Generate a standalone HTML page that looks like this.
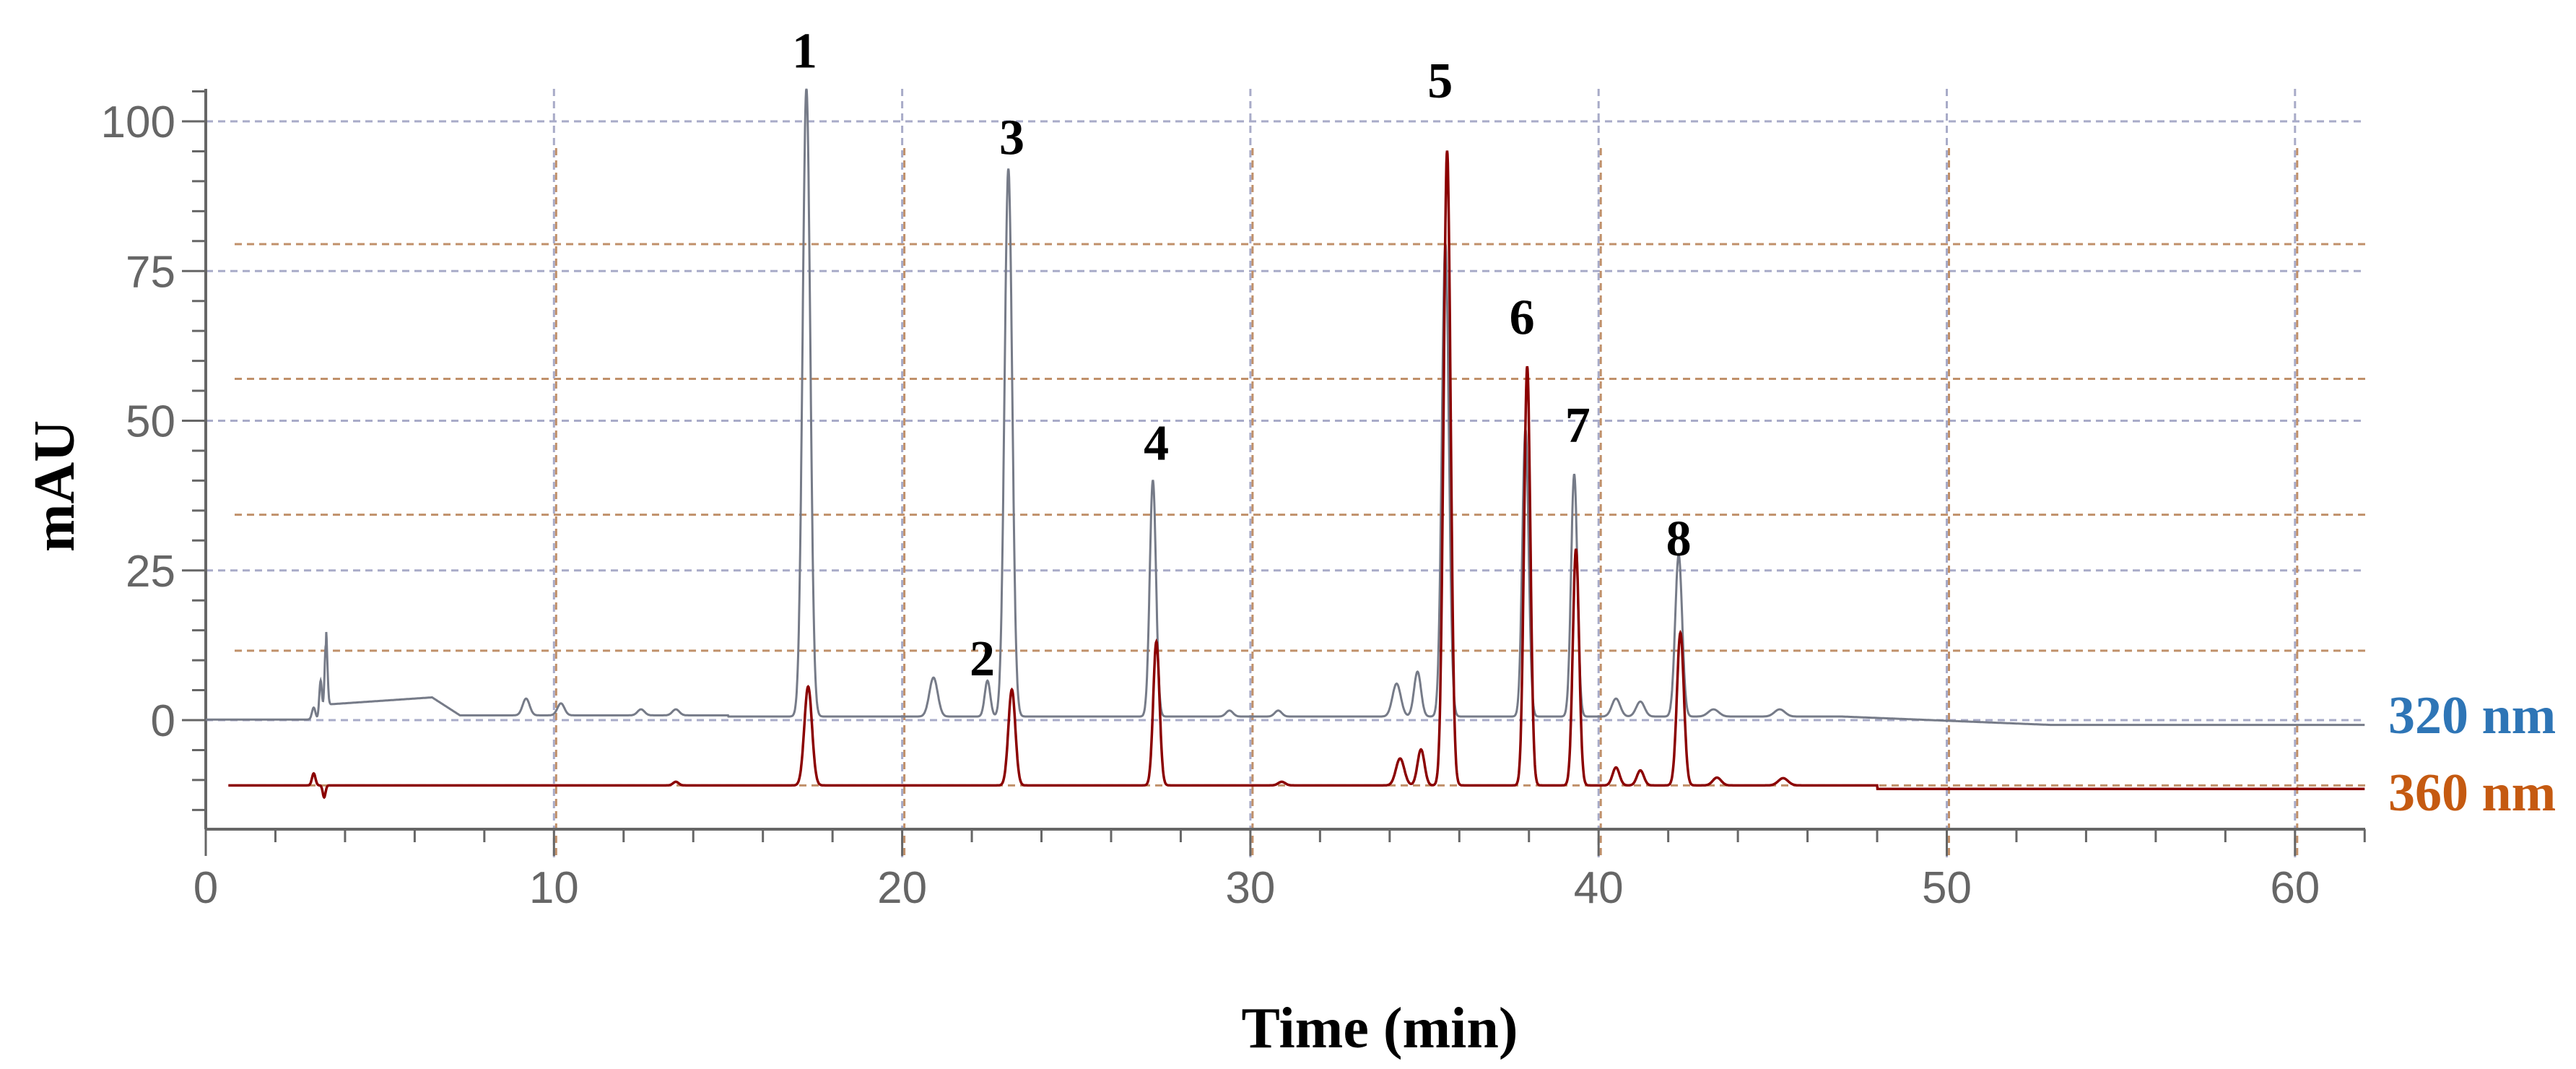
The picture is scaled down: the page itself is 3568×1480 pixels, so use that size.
<!DOCTYPE html>
<html><head><meta charset="utf-8"><style>
html,body{margin:0;padding:0;background:#fff;}
svg{display:block;}
</style></head><body>
<svg id="chart" width="3568" height="1480" viewBox="0 0 3568 1480" xmlns="http://www.w3.org/2000/svg">
<g id="grid"></g>
<g id="axes"></g>
<g id="series"></g>
<g id="labels"></g>
<text x="0" y="0" transform="translate(102,673) rotate(-90)" text-anchor="middle" font-family="Liberation Serif, serif" font-weight="bold" font-size="80" fill="#000">mAU</text>
<text x="1911" y="1450" text-anchor="middle" font-family="Liberation Serif, serif" font-weight="bold" font-size="80" fill="#000">Time (min)</text>
<text x="3308" y="1015" font-family="Liberation Serif, serif" font-weight="bold" font-size="74" fill="#2e75b6">320 nm</text>
<text x="3308" y="1122" font-family="Liberation Serif, serif" font-weight="bold" font-size="74" fill="#c55a11">360 nm</text>
</svg>
<script>
// ---- data ----
const xTicks = [0, 10, 20, 30, 40, 50, 60];
const yTicks = [0, 25, 50, 75, 100];
const orangeGrid = [79.5, 57.0, 34.3, 11.6, -10.9];
// 320 nm peaks: time (min), height (mAU above baseline), sigma (min)
const g320Times   = [3.1, 3.3, 3.45, 9.2, 10.2, 12.5, 13.5, 17.25, 20.9, 22.45, 23.05, 27.2, 29.4, 30.8, 34.2, 34.8, 35.6, 37.9, 39.3, 40.5, 41.2, 42.3, 43.3, 45.2];
const g320Heights = [2.0, 6.5, 12.5, 2.8, 2.0, 1.0, 1.0, 105, 6.5, 6.0, 91.5, 39.5, 1.0, 1.0, 5.5, 7.5, 79, 48, 40.5, 3.0, 2.5, 27, 1.2, 1.2];
const g320Widths  = [0.05, 0.04, 0.04, 0.1, 0.1, 0.1, 0.1, 0.11, 0.12, 0.08, 0.11, 0.09, 0.1, 0.1, 0.12, 0.1, 0.1, 0.09, 0.09, 0.12, 0.12, 0.1, 0.15, 0.15];
// 360 nm peaks (baseline -11 mAU)
const r360Times   = [3.1, 3.4, 13.5, 17.3, 23.15, 27.3, 30.9, 34.3, 34.9, 35.65, 37.95, 39.35, 40.5, 41.2, 42.35, 43.4, 45.3];
const r360Heights = [2.0, -2.0, 0.6, 16.5, 16, 24, 0.6, 4.5, 6, 106, 70, 39.5, 3.0, 2.5, 25.5, 1.3, 1.2];
const r360Widths  = [0.05, 0.04, 0.08, 0.11, 0.1, 0.09, 0.1, 0.12, 0.1, 0.1, 0.09, 0.09, 0.1, 0.1, 0.1, 0.12, 0.14];
const peakLabels = ["1","2","3","4","5","6","7","8"];
const peakLabelTimes = [17.2, 22.3, 23.15, 27.3, 35.45, 37.8, 39.4, 42.3];
const peakLabelValues = [112, 10.5, 97.5, 46.5, 107, 67.5, 49.5, 30.5];

// ---- scales ----
const X0 = 285, PXMIN = 48.23, Y0 = 997, PXMAU = 8.29;
const xS = t => X0 + t * PXMIN;
const yS = v => Y0 - v * PXMAU;
const NS = "http://www.w3.org/2000/svg";
function mk(tag, parent, attrs){ const e=document.createElementNS(NS,tag); for(const k in attrs) e.setAttribute(k, attrs[k]); parent.appendChild(e); return e; }
const grid=document.getElementById('grid'), axes=document.getElementById('axes'), series=document.getElementById('series'), labels=document.getElementById('labels');
const RIGHT = 3276, TOP = 123, AXY = 1148;

// grid
yTicks.forEach(v=>{
  const l=mk('line',grid,{x1:X0,x2:RIGHT,y1:yS(v),y2:yS(v),stroke:'#a8abc8','stroke-width':3,'stroke-dasharray':'10 7'});
  
  
});
orangeGrid.forEach((v,i)=>{
  const l=mk('line',grid,{x1:325,x2:RIGHT,y1:yS(v),y2:yS(v),stroke:'#c0906a','stroke-width':3,'stroke-dasharray':'10 7'});
  
  
});
xTicks.slice(1).forEach(t=>{
  const l=mk('line',grid,{x1:xS(t),x2:xS(t),y1:TOP,y2:1190,stroke:'#a8abc8','stroke-width':3,'stroke-dasharray':'10 7'});
  
  
  const o=mk('line',grid,{x1:xS(t)+3,x2:xS(t)+3,y1:205,y2:1190,stroke:'#c0906a','stroke-width':3,'stroke-dasharray':'10 7'});
  
  
});

// axes
const ya=mk('line',axes,{x1:X0,x2:X0,y1:TOP,y2:AXY,stroke:'#666','stroke-width':4});


const xa=mk('line',axes,{x1:X0,x2:RIGHT,y1:AXY,y2:AXY,stroke:'#666','stroke-width':4});


for(let v=-15; v<=105; v+=5){
  const major = v%25===0;
  const t=mk('line',axes,{x1:major?252:266,x2:X0,y1:yS(v),y2:yS(v),stroke:'#666','stroke-width':3});
  
  
}
for(let t=0; t<=62; t+=2){
  const major = t%10===0;
  const l=mk('line',axes,{x1:xS(t),x2:xS(t),y1:AXY,y2:major?1185:1166,stroke:'#666','stroke-width':3});
  
  
}
yTicks.forEach(v=>{
  const tx=mk('text',axes,{x:243,y:yS(v)+22,'text-anchor':'end','font-family':'Liberation Sans, sans-serif','font-size':62,fill:'#666'});
  tx.textContent=v;
  
  
});
xTicks.forEach(t=>{
  const tx=mk('text',axes,{x:xS(t),y:1250,'text-anchor':'middle','font-family':'Liberation Sans, sans-serif','font-size':62,fill:'#666'});
  tx.textContent=t;
  
  
});

// series
function trace(times,heights,widths,base,t0,t1){
  let d='';
  for(let t=t0; t<=t1; t+=0.01){
    let v=base(t);
    for(let i=0;i<times.length;i++){ const z=(t-times[i])/widths[i]; if(Math.abs(z)<8) v+=heights[i]*Math.exp(-0.5*z*z); }
    let y=Math.max(yS(v),TOP);
    d+=(d?'L':'M')+xS(t).toFixed(1)+','+y.toFixed(1);
  }
  return d;
}
const base320 = t => t<3.45?0.1: t<6.5?2.6+1.2*(t-3.45)/3.05: t<7.3?3.8-3.0*(t-6.5)/0.8: t<15?0.8: t<47?0.6: 0.6-1.4*Math.min(1,(t-47)/6);
const base360 = t => t<48?-10.9:-11.5;
const p1=mk('path',series,{d:trace(g320Times,g320Heights,g320Widths,base320,0,62),fill:'none',stroke:'#767b88','stroke-width':3});


const p2=mk('path',series,{d:trace(r360Times,r360Heights,r360Widths,base360,0.65,62),fill:'none',stroke:'#8b0000','stroke-width':3.5});



// peak labels
peakLabels.forEach((s,i)=>{
  const tx=mk('text',labels,{x:xS(peakLabelTimes[i]),y:yS(peakLabelValues[i])+25,'text-anchor':'middle','font-family':'Liberation Serif, serif','font-weight':'bold','font-size':70,fill:'#000'});
  tx.textContent=s;
  
  
});
</script>
</body></html>
